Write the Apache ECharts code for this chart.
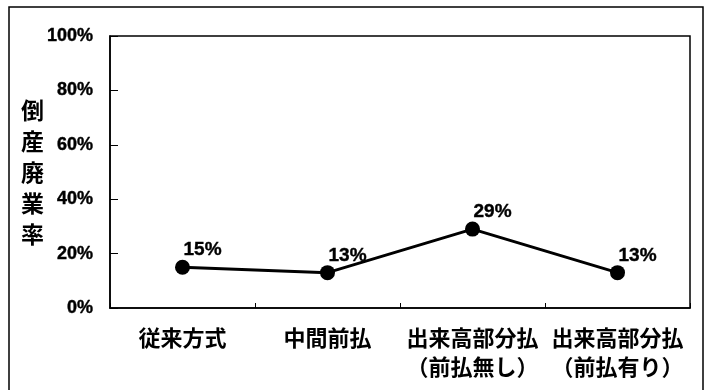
<!DOCTYPE html>
<html>
<head>
<meta charset="utf-8">
<script src="https://cdn.jsdelivr.net/npm/echarts@6/dist/echarts.min.js"></script>
<style>
  html, body { margin: 0; padding: 0; background: #fff; }
  #chart { width: 713px; height: 390px; }
</style>
</head>
<body>
<div id="chart"></div>
<script>
// Bankruptcy / closure rate by payment method
const categories = ['従来方式', '中間前払', '出来高部分払\n（前払無し）', '出来高部分払\n（前払有り）'];
const rates = [15, 13, 29, 13];
const yTicks = [0, 20, 40, 60, 80, 100];
const yAxisTitle = '倒\n産\n廃\n業\n率';

const latin = '"Liberation Sans", Arial, sans-serif';
const cjk = '"Noto Sans CJK JP", sans-serif';

const chart = echarts.init(document.getElementById('chart'), null, { renderer: 'canvas' });

chart.setOption({
  backgroundColor: '#ffffff',
  animation: false,
  graphic: [
    {
      type: 'rect',
      shape: { x: 9, y: 7, width: 694, height: 400 },
      style: { fill: 'none', stroke: '#000', lineWidth: 1.5 }
    },
    {
      type: 'text',
      left: 21,
      top: 95,
      style: {
        text: yAxisTitle,
        font: 'bold 23px ' + cjk,
        lineHeight: 31,
        fill: '#000'
      }
    }
  ],
  grid: {
    left: 110, right: 23, top: 36, bottom: 82,
    show: true,
    borderColor: '#000',
    borderWidth: 1.5,
    backgroundColor: 'transparent'
  },
  xAxis: {
    type: 'category',
    data: categories,
    boundaryGap: true,
    axisLine: { show: true, lineStyle: { color: '#000', width: 1.5 } },
    axisTick: { show: true, inside: true, length: 5, lineStyle: { color: '#000', width: 1 } },
    axisLabel: {
      color: '#000',
      fontFamily: cjk,
      fontWeight: 'bold',
      fontSize: 22,
      lineHeight: 29,
      margin: 15,
      interval: 0
    }
  },
  yAxis: {
    type: 'value',
    min: yTicks[0],
    max: yTicks[yTicks.length - 1],
    interval: 20,
    splitLine: { show: false },
    axisLine: { show: true, lineStyle: { color: '#000', width: 1.5 } },
    axisTick: { show: true, inside: true, length: 8, lineStyle: { color: '#000', width: 1 } },
    axisLabel: {
      color: '#000',
      fontFamily: latin,
      fontWeight: 'bold',
      fontSize: 18,
      margin: 17,
      padding: [5, 0, 0, 0],
      textBorderColor: '#000',
      textBorderWidth: 0.4,
      formatter: v => v + '%'
    }
  },
  series: [
    {
      type: 'line',
      data: rates,
      symbol: 'circle',
      symbolSize: 15,
      itemStyle: { color: '#000' },
      lineStyle: { color: '#000', width: 3 },
      label: {
        show: true,
        position: 'top',
        distance: 0,
        align: 'left',
        offset: [1, 0],
        color: '#000',
        fontFamily: latin,
        fontWeight: 'bold',
        fontSize: 19,
        textBorderColor: '#000',
        textBorderWidth: 0.4,
        formatter: p => p.value + '%'
      }
    }
  ]
});
</script>
</body>
</html>
